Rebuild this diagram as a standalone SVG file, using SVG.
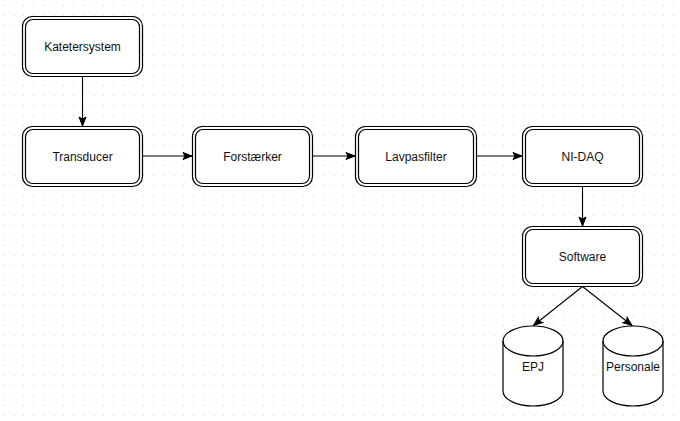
<svg xmlns="http://www.w3.org/2000/svg" width="680" height="421" viewBox="0 0 680 421">
<style>
.o{fill:#fff;stroke:#000;stroke-width:1.2}
.i{fill:none;stroke:#000;stroke-width:1.2}
.t{font-family:"Liberation Sans",Arial,sans-serif;font-size:12px;fill:#111;text-anchor:middle}
.c{fill:none;stroke:#000;stroke-width:1.1;marker-end:url(#ah)}
.cy{fill:#fff;stroke:#000;stroke-width:1.2}
</style>
<defs>
<pattern id="grid" x="3" y="5" width="10" height="10" patternUnits="userSpaceOnUse">
<rect x="0" y="0" width="1" height="1" fill="#cfcfcf"/>
</pattern>
<marker id="ah" markerUnits="userSpaceOnUse" markerWidth="11" markerHeight="9" refX="10" refY="4.5" orient="auto" viewBox="0 0 11 9">
<path d="M1,1 L10,4.5 L1,8 L3,4.5 z" fill="#000" stroke="#000" stroke-width="1"/>
</marker>
</defs>
<rect width="680" height="421" fill="#fff"/>
<rect width="680" height="421" fill="url(#grid)"/>
<g id="connectors">
<path class="c" d="M82.5,76.5 L82.5,126"/>
<path class="c" d="M142.5,156 L192,156"/>
<path class="c" d="M312.5,156 L355,156"/>
<path class="c" d="M476.5,156 L522,156"/>
<path class="c" d="M582.5,186.5 L582.5,226"/>
<path class="c" d="M582.5,286.5 L533.5,325.5"/>
<path class="c" d="M582.5,286.5 L632,325.5"/>
</g>
<g id="katetersystem">
<rect class="o" x="22.5" y="16.5" width="120" height="60" rx="10"/>
<rect class="i" x="25.5" y="19.5" width="114" height="54" rx="7.5"/>
<text class="t" x="82.5" y="50.5">Katetersystem</text>
</g>
<g id="transducer">
<rect class="o" x="22.5" y="126.5" width="120" height="60" rx="10"/>
<rect class="i" x="25.5" y="129.5" width="114" height="54" rx="7.5"/>
<text class="t" x="82.5" y="160.5">Transducer</text>
</g>
<g id="forstaerker">
<rect class="o" x="192.5" y="126.5" width="120" height="60" rx="10"/>
<rect class="i" x="195.5" y="129.5" width="114" height="54" rx="7.5"/>
<text class="t" x="252.5" y="160.5">Forstærker</text>
</g>
<g id="lavpasfilter">
<rect class="o" x="355.5" y="126.5" width="121" height="60" rx="10"/>
<rect class="i" x="358.5" y="129.5" width="115" height="54" rx="7.5"/>
<text class="t" x="416" y="160.5">Lavpasfilter</text>
</g>
<g id="nidaq">
<rect class="o" x="522.5" y="126.5" width="120" height="60" rx="10"/>
<rect class="i" x="525.5" y="129.5" width="114" height="54" rx="7.5"/>
<text class="t" x="582.5" y="160.5">NI-DAQ</text>
</g>
<g id="software">
<rect class="o" x="522.5" y="226.5" width="120" height="60" rx="10"/>
<rect class="i" x="525.5" y="229.5" width="114" height="54" rx="7.5"/>
<text class="t" x="582.5" y="260.5">Software</text>
</g>
<g id="epj">
<path class="cy" d="M503,341 A30,15 0 0 1 563,341 L563,391 A30,15 0 0 1 503,391 Z"/>
<path class="i" d="M503,341 A30,15 0 0 0 563,341"/>
<text class="t" x="533" y="371">EPJ</text>
</g>
<g id="personale">
<path class="cy" d="M603,341 A30,15 0 0 1 663,341 L663,391 A30,15 0 0 1 603,391 Z"/>
<path class="i" d="M603,341 A30,15 0 0 0 663,341"/>
<text class="t" x="633" y="371">Personale</text>
</g>
</svg>
